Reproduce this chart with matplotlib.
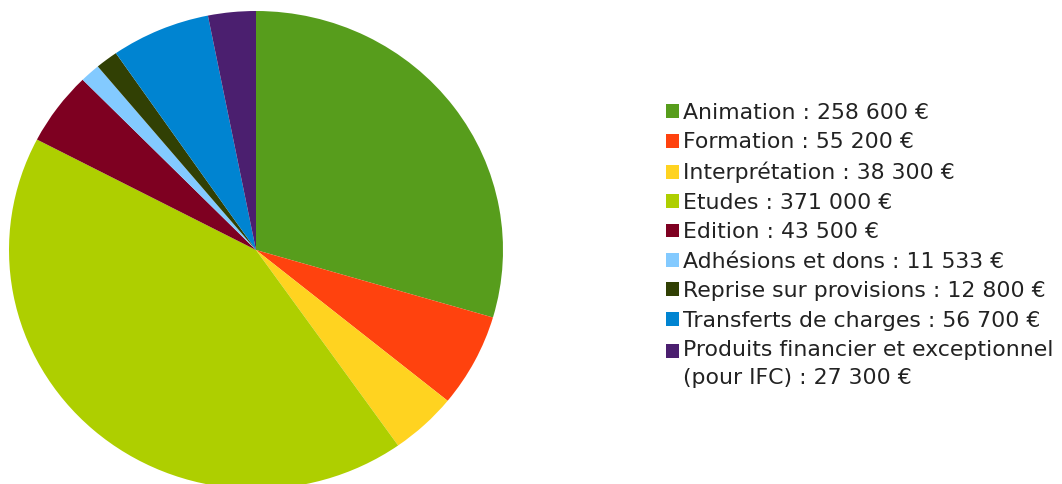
import matplotlib.pyplot as plt
from matplotlib.legend_handler import HandlerPatch

# budget recettes
labels = ["Animation", "Formation", "Interprétation", "Etudes", "Edition",
          "Adhésions et dons", "Reprise sur provisions", "Transferts de charges",
          "Produits financier et exceptionnel\n(pour IFC)"]
values = [258600, 55200, 38300, 371000, 43500, 11533, 12800, 56700, 27300]
value_text = ["258 600", "55 200", "38 300", "371 000", "43 500",
              "11 533", "12 800", "56 700", "27 300"]
colors = ["#579d1c", "#ff420e", "#ffd320", "#aecf00", "#7e0021",
          "#83caff", "#314004", "#0084d1", "#4b1f6f"]


# legend key pinned to the first line of a two-line label
class TopHandler(HandlerPatch):
    def __init__(self, shift, **kw):
        super().__init__(**kw)
        self.shift = shift

    def create_artists(self, legend, orig_handle, xdescent, ydescent,
                       width, height, fontsize, trans):
        arts = super().create_artists(legend, orig_handle, xdescent, ydescent,
                                      width, height, fontsize, trans)
        for a in arts:
            a.set_y(a.get_y() + self.shift)
        return arts


W, H = 1062, 484
fig = plt.figure(figsize=(W / 100, H / 100), dpi=100)

# pie centre and radii in pixels (slightly squashed vertically)
cx, cy, rx, ry = 256, 250, 247, 239
ax = fig.add_axes([(cx - rx) / W, (H - cy - ry) / H, 2 * rx / W, 2 * ry / H])
wedges, _ = ax.pie(values, colors=colors, startangle=90, counterclock=False,
                   radius=1, wedgeprops=dict(linewidth=0))
ax.set_xlim(-1, 1)
ax.set_ylim(-1, 1)
ax.set_aspect("auto")
ax.axis("off")

legend_labels = ["{} : {} €".format(l, v) for l, v in zip(labels, value_text)]
leg = fig.legend(wedges, legend_labels, loc="upper left",
                 bbox_to_anchor=(666 / W, 1 - 103 / H), frameon=False,
                 fontsize=15.8, handlelength=0.6, handleheight=0.6,
                 handletextpad=0.16, labelspacing=0.43, borderpad=0,
                 borderaxespad=0,
                 handler_map={wedges[-1]: TopHandler(9.7)})
for t in leg.get_texts():
    t.set_color("#222222")
    t.set_linespacing(1.48)

fig.savefig("out.png", dpi=100)
